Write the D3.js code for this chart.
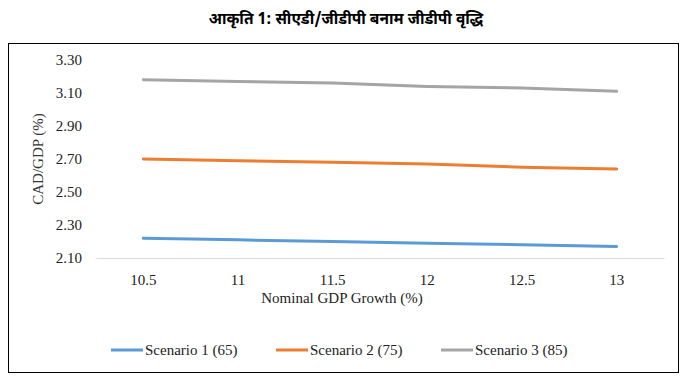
<!DOCTYPE html>
<html><head><meta charset="utf-8">
<script src="https://cdn.jsdelivr.net/npm/d3@7"></script>
<style>
body{margin:0;background:#fff}
svg text.sf{font-family:"Liberation Serif",serif !important;}
svg .tick text{font-family:"Liberation Serif",serif !important;}
</style>
</head><body>
<svg id="c" width="688" height="381"></svg>
<script>
const categories = ["10.5","11","11.5","12","12.5","13"];
const scenario1 = [2.22,2.21,2.20,2.19,2.18,2.17];
const scenario2 = [2.70,2.69,2.68,2.67,2.65,2.64];
const scenario3 = [3.18,3.17,3.16,3.14,3.13,3.11];
const yTicks = [2.10,2.30,2.50,2.70,2.90,3.10,3.30];
const seriesNames = ["Scenario 1 (65)","Scenario 2 (75)","Scenario 3 (85)"];
const colors = ["#5b9bd5","#ed7d31","#a5a5a5"];
const series = [scenario1, scenario2, scenario3];

const svg = d3.select("#c");
const FF = "Liberation Serif";
svg.append("text").attr("x",346).attr("y",24).attr("text-anchor","middle")
  .attr("font-family","Noto Sans Devanagari").attr("font-weight","bold").attr("font-size",15.5)
  .text("आकृति 1: सीएडी/जीडीपी बनाम जीडीपी वृद्धि");
svg.append("rect").attr("x",8.5).attr("y",43.5).attr("width",670).attr("height",329)
  .attr("fill","none").attr("stroke","#000").attr("stroke-width",1);

const x = d3.scaleBand().domain(categories).range([96,664]);
const y = d3.scaleLinear().domain([2.10,3.30]).range([258,60]);

const gy = svg.append("g").attr("transform","translate(96,0)")
  .call(d3.axisLeft(y).tickValues(yTicks).tickFormat(d3.format(".2f")).tickSize(0).tickPadding(14))
  .attr("font-family",FF).attr("font-size",15);
gy.select(".domain").remove();
gy.selectAll("text").attr("class","sf").attr("font-size",15).attr("fill","#222");

const gx = svg.append("g").attr("transform","translate(0,258)")
  .call(d3.axisBottom(x).tickSize(0).tickPadding(16))
  .attr("font-family",FF).attr("font-size",15);
gx.select(".domain").attr("stroke","#d9d9d9");
gx.selectAll("text").attr("class","sf").attr("font-size",15).attr("fill","#222");

svg.append("text").attr("class","sf").attr("transform","translate(43,159) rotate(-90)").attr("text-anchor","middle")
  .attr("font-size",15).attr("fill","#333").text("CAD/GDP (%)");
svg.append("text").attr("class","sf").attr("x",342).attr("y",303).attr("text-anchor","middle")
  .attr("font-size",15).attr("fill","#222").text("Nominal GDP Growth (%)");

const line = d3.line().x((d,i)=>x(categories[i])+x.bandwidth()/2).y(d=>y(d));
series.forEach((s,k)=>{
  svg.append("path").datum(s).attr("d",line).attr("fill","none")
    .attr("stroke",colors[k]).attr("stroke-width",3).attr("stroke-linecap","round");
});

const legX = [111,276,441];
seriesNames.forEach((n,k)=>{
  svg.append("line").attr("x1",legX[k]).attr("x2",legX[k]+32).attr("y1",350).attr("y2",350)
    .attr("stroke",colors[k]).attr("stroke-width",3);
  svg.append("text").attr("class","sf").attr("x",legX[k]+34).attr("y",355).attr("font-size",15)
    .attr("fill","#222").text(n);
});
</script>
</body></html>
